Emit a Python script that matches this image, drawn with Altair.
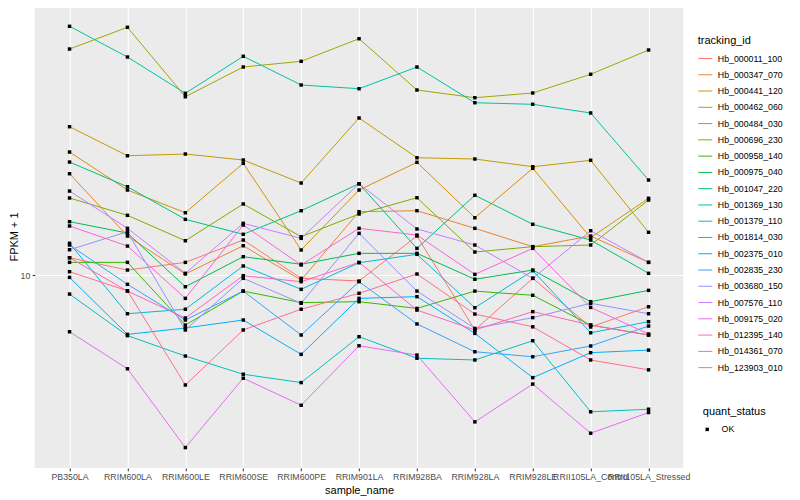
import altair as alt
import pandas as pd

samples = ["PB350LA", "RRIM600LA", "RRIM600LE", "RRIM600SE", "RRIM600PE", "RRIM901LA",
           "RRIM928BA", "RRIM928LA", "RRIM928LE", "RRII105LA_Control", "RRII105LA_Stressed"]

tracking_ids = ["Hb_000011_100", "Hb_000347_070", "Hb_000441_120", "Hb_000462_060", "Hb_000484_030",
                "Hb_000696_230", "Hb_000958_140", "Hb_000975_040", "Hb_001047_220", "Hb_001369_130",
                "Hb_001379_110", "Hb_001814_030", "Hb_002375_010", "Hb_002835_230", "Hb_003680_150",
                "Hb_007576_110", "Hb_009175_020", "Hb_012395_140", "Hb_014361_070", "Hb_123903_010"]

colors = ["#F8766D", "#EA8331", "#D89000", "#C09B00", "#A3A500", "#7CAE00", "#39B600", "#00BB4E",
          "#00BF7D", "#00C1A3", "#00BFC4", "#00BAE0", "#00B0F6", "#35A2FF", "#9590FF", "#C77CFF",
          "#E76BF3", "#FA62DB", "#FF62BC", "#FF6C91"]

# FPKM + 1 per sample (order of `samples`)
Hb_000011_100 = [11.42, 10.39, 11.02, 13.08, 9.75, 9.55, 13.49, 6.56, 9.75, 6.71, 7.84]
Hb_000347_070 = [21.76, 13.49, 10.08, 12.52, 9.62, 16.26, 16.38, 14.31, 12.43, 13.49, 11.02]
Hb_000441_120 = [25.70, 19.20, 16.13, 23.57, 12.12, 19.20, 23.75, 15.52, 22.68, 13.32, 18.02]
Hb_000462_060 = [31.21, 24.98, 25.31, 24.17, 20.26, 33.37, 24.60, 24.36, 22.96, 24.12, 13.88]
Hb_000484_030 = [56.66, 66.94, 39.29, 49.35, 51.56, 61.32, 41.37, 38.99, 40.43, 46.67, 56.23]
Hb_000696_230 = [18.06, 15.81, 13.01, 17.25, 13.42, 15.97, 18.10, 11.93, 12.43, 12.59, 17.78]
Hb_000958_140 = [11.02, 11.02, 6.81, 8.84, 8.09, 8.15, 7.74, 8.84, 8.56, 6.81, 6.31]
Hb_000975_040 = [15.06, 13.80, 9.14, 11.51, 10.86, 11.81, 11.81, 9.68, 10.39, 8.15, 8.89]
Hb_001047_220 = [23.80, 19.69, 15.33, 13.67, 16.38, 20.15, 12.27, 18.44, 14.76, 13.08, 10.13]
Hb_001369_130 = [67.45, 53.29, 40.33, 53.58, 42.99, 41.78, 49.35, 37.52, 37.07, 34.68, 20.73]
Hb_001379_110 = [8.64, 6.28, 5.37, 4.67, 4.38, 6.23, 5.28, 5.21, 6.04, 3.50, 3.57]
Hb_001814_030 = [12.76, 7.43, 7.69, 10.72, 8.96, 10.99, 11.72, 7.78, 10.34, 6.42, 6.99]
Hb_002375_010 = [9.82, 6.34, 6.66, 7.08, 5.44, 8.36, 8.47, 6.39, 4.55, 5.51, 5.62]
Hb_002835_230 = [12.59, 9.31, 7.08, 8.84, 6.31, 9.50, 6.87, 5.55, 5.34, 5.80, 6.76]
Hb_003680_150 = [12.14, 13.94, 6.56, 9.75, 8.05, 13.77, 8.84, 6.64, 7.21, 8.05, 7.43]
Hb_007576_110 = [19.05, 14.31, 10.13, 14.87, 13.25, 20.15, 14.24, 12.59, 9.75, 14.05, 11.02]
Hb_009175_020 = [6.47, 4.87, 2.66, 4.53, 3.68, 5.81, 5.41, 3.24, 4.33, 2.97, 3.48]
Hb_012395_140 = [14.57, 12.49, 8.36, 14.68, 10.80, 14.31, 13.59, 10.05, 12.27, 7.80, 6.36]
Hb_014361_070 = [11.42, 8.84, 7.19, 9.95, 9.50, 11.02, 7.64, 6.56, 7.55, 6.81, 6.31]
Hb_123903_010 = [10.26, 8.86, 4.30, 6.56, 7.69, 8.69, 10.08, 7.41, 6.72, 5.21, 4.83]

series = [Hb_000011_100, Hb_000347_070, Hb_000441_120, Hb_000462_060, Hb_000484_030,
          Hb_000696_230, Hb_000958_140, Hb_000975_040, Hb_001047_220, Hb_001369_130,
          Hb_001379_110, Hb_001814_030, Hb_002375_010, Hb_002835_230, Hb_003680_150,
          Hb_007576_110, Hb_009175_020, Hb_012395_140, Hb_014361_070, Hb_123903_010]

rows = []
for tid, vals in zip(tracking_ids, series):
    for s, v in zip(samples, vals):
        rows.append({"tracking_id": tid, "sample_name": s, "fpkm": v, "quant_status": "OK"})
df = pd.DataFrame(rows)

FONT = "Liberation Sans"

x_enc = alt.X("sample_name:N", sort=samples,
              scale=alt.Scale(type="point", padding=0.6),
              axis=alt.Axis(title="sample_name", labelAngle=0, labelOverlap=False,
                            labelLimit=0, labelPadding=2.2, titlePadding=3))
y_enc = alt.Y("fpkm:Q",
              scale=alt.Scale(type="log", domain=[2.274, 79.43], nice=False, zero=False),
              axis=alt.Axis(title="FPKM + 1", values=[10], format="d",
                            labelPadding=2.2, titlePadding=1))

base = alt.Chart(df)

lines = base.mark_line(strokeWidth=1).encode(
    x=x_enc, y=y_enc,
    color=alt.Color("tracking_id:N",
                    scale=alt.Scale(domain=tracking_ids, range=colors),
                    legend=alt.Legend(title="tracking_id", orient="none",
                                      legendX=663, legendY=30,
                                      symbolType="stroke", symbolSize=196,
                                      symbolStrokeWidth=1, rowPadding=3.27,
                                      labelOffset=5, titlePadding=5)),
)

points = base.mark_point(filled=True, size=12, opacity=1, color="black").encode(
    x=x_enc, y=y_enc,
    shape=alt.Shape("quant_status:N", scale=alt.Scale(range=["square"]),
                    legend=alt.Legend(title="quant_status", orient="none",
                                      legendX=668, legendY=401,
                                      symbolSize=12, symbolFillColor="black",
                                      symbolStrokeColor="black",
                                      labelOffset=10, titlePadding=8)),
)

chart = alt.layer(lines, points).properties(
    width=648.5, height=463,
    autosize=alt.AutoSizeParams(type="none"),
    padding={"left": 26.8, "top": -3, "right": 108, "bottom": 30},
).configure_view(
    fill="#EBEBEB", stroke=None
).configure_axis(
    grid=True, gridColor="white", gridWidth=1.07, domain=False,
    tickColor="#333333", tickSize=2.74, tickWidth=1.07,
    labelColor="#4D4D4D", labelFontSize=8.8, labelFont=FONT,
    titleFont=FONT, titleFontSize=11, titleFontWeight="normal", titleColor="black",
).configure_legend(
    titleFont=FONT, titleFontSize=11, titleFontWeight="normal", titleColor="black",
    labelFont=FONT, labelFontSize=8.8, labelColor="black",
)

chart.save("out.html", embed_options={"renderer": "svg", "actions": False})
